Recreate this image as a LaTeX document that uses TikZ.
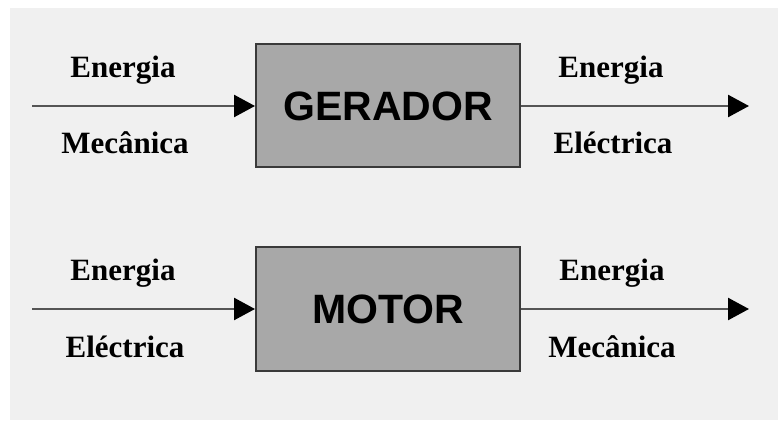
\documentclass[tikz,border=0pt]{standalone}
\usepackage{fontspec}
\setmainfont{Liberation Serif}
\newfontfamily\boxfont{Liberation Sans}
\usetikzlibrary{arrows.meta}
\definecolor{panel}{HTML}{F0F0F0}
\definecolor{boxfill}{HTML}{A8A8A8}
\definecolor{boxline}{HTML}{3A3A3A}
\definecolor{flowline}{HTML}{555555}
\tikzset{
  x=1pt, y=1pt,
  machine/.style={draw=boxline, line width=2pt, fill=boxfill,
    minimum width=264pt, minimum height=123pt, inner sep=0pt,
    font=\boxfont\bfseries\fontsize{41}{41}\selectfont},
  flow/.style={draw=flowline, line width=2.5pt,
    -{Triangle[length=21pt,width=22pt,fill=black,color=black]}},
  lbl/.style={font=\bfseries\fontsize{31}{31}\selectfont, inner sep=0pt}
}
\begin{document}
\begin{tikzpicture}
  \useasboundingbox (0,0) rectangle (778,420);
  \fill[white] (0,0) rectangle (778,420);
  \fill[panel] (10,0) rectangle (778,412);

  % generator
  \node[machine] (gen) at (388,314) {GERADOR};
  \coordinate (genin) at (32,314);
  \coordinate (genout) at (749,314);
  \draw[flow] (genin) -- (gen.west);
  \draw[flow] (gen.east) -- (genout);
  \node[lbl] (g1) at (123,350) {Energia};
  \node[lbl] (g2) at (125,277) {Mecânica};
  \node[lbl] (g3) at (611,350) {Energia};
  \node[lbl] (g4) at (613,277) {Eléctrica};

  % motor
  \node[machine] (mot) at (388,111) {MOTOR};
  \coordinate (motin) at (32,111);
  \coordinate (motout) at (749,111);
  \draw[flow] (motin) -- (mot.west);
  \draw[flow] (mot.east) -- (motout);
  \node[lbl] (m1) at (123,147) {Energia};
  \node[lbl] (m2) at (125,73) {Eléctrica};
  \node[lbl] (m3) at (612,147) {Energia};
  \node[lbl] (m4) at (612,73) {Mecânica};
\end{tikzpicture}
\end{document}
